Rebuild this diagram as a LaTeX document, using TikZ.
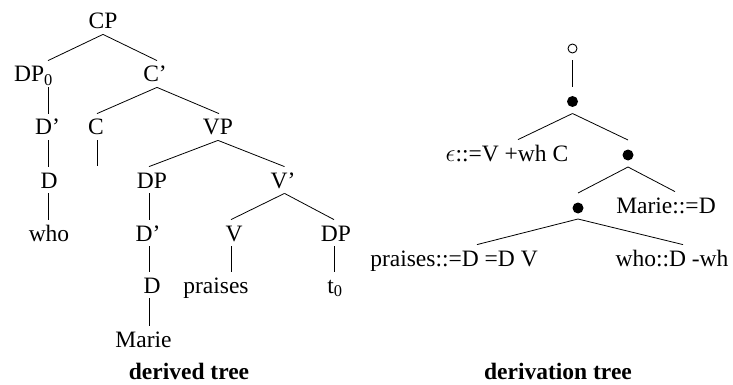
\documentclass[tikz,border=0pt]{standalone}
\usepackage{fontspec}
\setmainfont{Liberation Serif}
\begin{document}
\begin{tikzpicture}[x=1pt,y=-1pt,line width=0.8pt,
  lab/.style={anchor=base,inner sep=0pt,text height=21pt,text depth=5pt,font=\fontsize{23.5pt}{28pt}\selectfont},
  dotb/.style={circle,fill=black,inner sep=0pt,minimum size=11pt},
  doto/.style={circle,draw=black,line width=0.9pt,inner sep=0pt,minimum size=9pt}]
\useasboundingbox (0,0) rectangle (733,385);
% derived tree
\node[lab] (cp) at (103,29) {CP};
\node[lab] (dpz) at (33.5,82) {DP\textsubscript{0}};
\node[lab] (cbar) at (155,82) {C'};
\node[lab] (dbarA) at (47.5,135) {D'};
\node[lab] (cC) at (96,135) {C};
\node[lab] (vp) at (218,135) {VP};
\node[lab] (dA) at (49,188) {D};
\node[lab] (dpB) at (152,188) {DP};
\node[lab] (vbar) at (283,188) {V'};
\node[lab] (who) at (49,241) {who};
\node[lab] (dbarB) at (148,241) {D'};
\node[lab] (vV) at (234,241) {V};
\node[lab] (dpC) at (336,241) {DP};
\node[lab] (dB) at (152,293) {D};
\node[lab] (praises) at (216,293) {praises};
\node[lab] (t0) at (335,293) {t\textsubscript{0}};
\node[lab] (marie) at (143.5,347) {Marie};
\node[lab] (title1) at (189,379) {\textbf{derived tree}};
\coordinate (cE) at (97,166);
\draw (cp.south) -- ([xshift=14.5pt]dpz.north);
\draw (cp.south) -- ([xshift=2pt]cbar.north);
\draw ([xshift=14.5pt]dpz.south) -- ([xshift=0.5pt]dbarA.north);
\draw ([xshift=0.5pt]dbarA.south) -- ([xshift=-1pt]dA.north);
\draw ([xshift=-1pt]dA.south) -- ([xshift=-1pt]who.north);
\draw ([xshift=2pt]cbar.south) -- ([xshift=1pt]cC.north);
\draw ([xshift=2pt]cbar.south) -- ([xshift=1pt]vp.north);
\draw ([xshift=1pt]cC.south) -- (cE);
\draw (vp.south) -- ([xshift=-3pt]dpB.north);
\draw (vp.south) -- ([xshift=1.5pt]vbar.north);
\draw ([xshift=-3pt]dpB.south) -- ([xshift=1pt]dbarB.north);
\draw ([xshift=1pt]dbarB.south) -- ([xshift=-3pt]dB.north);
\draw ([xshift=-3pt]dB.south) -- ([xshift=5.5pt]marie.north);
\draw ([xshift=1.5pt]vbar.south) -- ([xshift=-3pt]vV.north);
\draw ([xshift=1.5pt]vbar.south) -- ([xshift=-2pt]dpC.north);
\draw ([xshift=-3pt]vV.south) -- ([xshift=15pt]praises.north);
\draw ([xshift=-2pt]dpC.south) -- ([xshift=-1pt]t0.north);
% derivation tree
\node[doto] (c0) at (572.5,48.5) {};
\node[dotb] (d1) at (572.5,101.5) {};
\node[lab] (eps) at (507,161) {$\epsilon$::=V +wh C};
\node[dotb] (d2) at (628,155) {};
\node[dotb] (d3) at (578,208) {};
\node[lab] (marieD) at (666,213) {Marie::=D};
\node[lab] (praisesD) at (454,266) {praises::=D =D V};
\node[lab] (whoD) at (672,266) {who::D -wh};
\node[lab] (title2) at (558,379) {\textbf{derivation tree}};
\draw ([yshift=-12pt]c0.center) -- ([yshift=14pt]d1.center);
\draw ([yshift=-12pt]d1.center) -- ([xshift=11pt]eps.north);
\draw ([yshift=-12pt]d1.center) -- ([yshift=15pt]d2.center);
\draw ([yshift=-12pt]d2.center) -- ([yshift=15pt]d3.center);
\draw ([yshift=-12pt]d2.center) -- ([xshift=9pt]marieD.north);
\draw ([yshift=-11pt]d3.center) -- ([xshift=23pt]praisesD.north);
\draw ([yshift=-11pt]d3.center) -- ([xshift=11pt]whoD.north);
\end{tikzpicture}
\end{document}
